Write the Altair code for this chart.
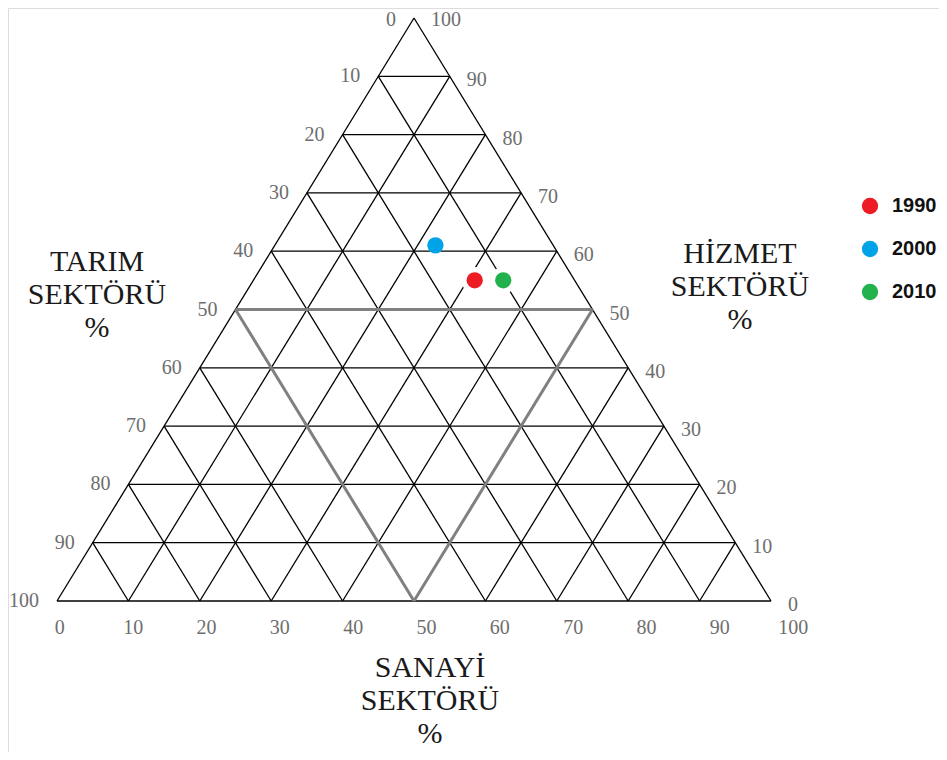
import altair as alt
import pandas as pd

# ---- data ----
years = ["1990", "2000", "2010"]
sanayi = [31.0, 22.5, 35.0]     # industry share %
hizmet = [55.0, 61.0, 55.0]     # services share %
colors = ["#ed1c24", "#00a2e8", "#22b14c"]
tick_values = [0, 10, 20, 30, 40, 50, 60, 70, 80, 90, 100]

pts = pd.DataFrame({"year": years, "sanayi": sanayi, "hizmet": hizmet})
pts["x"] = pts["sanayi"] + pts["hizmet"] / 2.0
pts["y"] = pts["hizmet"]

segs = []
def seg(a, b, kind):
    segs.append({"x": a[0], "y": a[1], "x2": b[0], "y2": b[1], "kind": kind})

seg((0, 0), (100, 0), "grid")
seg((0, 0), (50, 100), "grid")
seg((100, 0), (50, 100), "grid")
for k in range(1, 10):
    seg((5 * k, 10 * k), (100 - 5 * k, 10 * k), "grid")
    seg((10 * k, 0), (5 * k, 10 * k), "grid")
    seg((10 * k, 0), (50 + 5 * k, 100 - 10 * k), "grid")
seg((25, 50), (75, 50), "mid")
seg((25, 50), (50, 0), "mid")
seg((75, 50), (50, 0), "mid")
segdf = pd.DataFrame(segs)

# tick labels
left_lab = pd.DataFrame({"t": [str(v) for v in tick_values]})
left_lab["h"] = [100 - v for v in tick_values]
left_lab["x"] = left_lab["h"] / 2.0
left_lab["y"] = [h - (0.35 if h == 100 else 0.0) for h in left_lab["h"]]
right_lab = pd.DataFrame({"t": [str(v) for v in tick_values]})
right_lab["h"] = tick_values
right_lab["x"] = 100 - right_lab["h"] / 2.0
right_lab["y"] = [h - (0.7 if h < 100 else 0.3) for h in tick_values]
bottom_lab = pd.DataFrame({"t": [str(v) for v in tick_values]})
bottom_lab["x"] = [0.4 + v * 1.027 for v in tick_values]
bottom_lab["y"] = 0

W, H = 931, 744
x_dom = [-49 / 7.14, (W - 49) / 7.14]
y_dom = [(593 - H) / 5.83, 593 / 5.83]
X = alt.X("x:Q", scale=alt.Scale(domain=x_dom, nice=False, zero=False), axis=None)
Y = alt.Y("y:Q", scale=alt.Scale(domain=y_dom, nice=False, zero=False), axis=None)

grid = alt.Chart(segdf).transform_filter(alt.datum.kind == "grid").mark_rule(
    color="#000000", strokeWidth=1.3
).encode(x=X, y=Y, x2="x2:Q", y2="y2:Q")
mid = alt.Chart(segdf).transform_filter(alt.datum.kind == "mid").mark_rule(
    color="#808080", strokeWidth=3
).encode(x=X, y=Y, x2="x2:Q", y2="y2:Q")

lab_style = dict(font="Liberation Serif", fontSize=20, color="#6e6e6e")
ltxt = alt.Chart(left_lab).mark_text(align="right", baseline="middle", dx=-18, **lab_style).encode(
    x=X, y=Y, text="t:N")
rtxt = alt.Chart(right_lab).mark_text(align="left", baseline="middle", dx=17, **lab_style).encode(
    x=X, y=Y, text="t:N")
btxt = alt.Chart(bottom_lab).mark_text(align="center", baseline="middle", dy=27, **lab_style).encode(
    x=X, y=Y, text="t:N")

halo = alt.Chart(pts).transform_filter(alt.datum.year != "2000").mark_point(
    shape="circle", filled=True, color="white", size=700, opacity=1
).encode(x=X, y=Y)

dots = alt.Chart(pts).mark_point(shape="circle", filled=True, size=265, opacity=1).encode(
    x=X, y=Y,
    color=alt.Color("year:N", scale=alt.Scale(domain=years, range=colors),
                    legend=alt.Legend(title=None, orient="none", legendX=852, legendY=188,
                                      symbolType="circle", symbolSize=265, symbolStrokeWidth=0,
                                      labelFont="Liberation Sans", labelFontWeight="bold",
                                      labelFontSize=20, labelColor="#111111", labelOffset=12,
                                      rowPadding=23, padding=0, symbolOpacity=1)),
)

title_style = dict(font="Liberation Serif", fontSize=30, color="#1a1a1a", lineHeight=33,
                   align="center", baseline="middle")
t_tarim = alt.Chart(pts).transform_filter(alt.datum.year == "1990").mark_text(
    text=["TARIM", "SEKTÖRÜ", "%"], **title_style).encode(x=alt.value(89), y=alt.value(254))
t_hizmet = alt.Chart(pts).transform_filter(alt.datum.year == "1990").mark_text(
    text=["HİZMET", "SEKTÖRÜ", "%"], **title_style).encode(x=alt.value(732), y=alt.value(246))
t_sanayi = alt.Chart(pts).transform_filter(alt.datum.year == "1990").mark_text(
    text=["SANAYİ", "SEKTÖRÜ", "%"], **title_style).encode(x=alt.value(422), y=alt.value(660))

chart = alt.layer(grid, mid, ltxt, rtxt, btxt, halo, dots, t_tarim, t_hizmet, t_sanayi).properties(
    width=W, height=H, padding=0, autosize=alt.AutoSizeParams(type="none")
).configure_view(stroke=None).configure(background="white")

chart.save("out.html", embed_options={"renderer": "svg", "actions": False})
